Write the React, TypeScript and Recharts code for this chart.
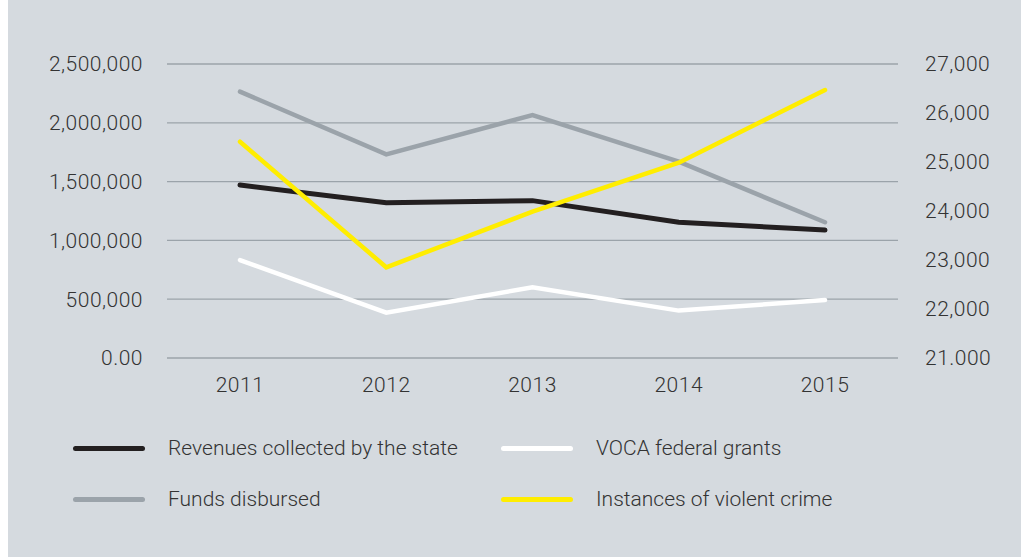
import React from "react";
import { LineChart, Line, XAxis, YAxis, CartesianGrid } from "recharts";

const years = ["2011", "2012", "2013", "2014", "2015"];
const revenues = [1471000, 1321000, 1338000, 1154000, 1088000];
const funds = [2265000, 1732000, 2066000, 1669000, 1154000];
const voca = [833000, 385000, 601000, 403000, 493000];
const crime = [25414, 22851, 23986, 24986, 26469];

const leftTicks = [0, 500000, 1000000, 1500000, 2000000, 2500000];
const leftLabels = ["0.00", "500,000", "1,000,000", "1,500,000", "2,000,000", "2,500,000"];
const rightTicks = [21000, 22000, 23000, 24000, 25000, 26000, 27000];
const rightLabels = ["21.000", "22,000", "23,000", "24,000", "25,000", "26,000", "27,000"];

const seriesNames = [
  "Revenues collected by the state",
  "VOCA federal grants",
  "Funds disbursed",
  "Instances of violent crime",
];

const data = years.map((y, i) => ({
  year: y,
  revenues: revenues[i],
  funds: funds[i],
  voca: voca[i],
  crime: crime[i],
}));

const BG = "#d5dadf";
const TEXT = "#333333";
const GRID = "#9ba3aa";
const FONT = "Roboto, 'Liberation Sans', sans-serif";

const legendItems = [
  { name: seriesNames[0], color: "#231f20", left: 65, top: 448 },
  { name: seriesNames[1], color: "#ffffff", left: 493, top: 448 },
  { name: seriesNames[2], color: "#9ba3aa", left: 65, top: 499 },
  { name: seriesNames[3], color: "#ffed00", left: 493, top: 499 },
];

const tickStyle = { fill: TEXT, fontSize: 21, fontFamily: FONT, fontWeight: 300, letterSpacing: 0.5 };

export default function App() {
  return (
    <div
      style={{
        position: "absolute",
        left: 8,
        top: 0,
        width: 1013,
        height: 557,
        background: BG,
        fontFamily: FONT,
      }}
    >
      <LineChart
        width={1013}
        height={557}
        data={data}
        margin={{ top: 64, right: 0, bottom: 149, left: 0 }}
      >
        <CartesianGrid vertical={false} stroke={GRID} strokeWidth={1.3} yAxisId="left" />
        <XAxis
          dataKey="year"
          axisLine={false}
          tickLine={false}
          tickSize={0}
          tickMargin={19}
          height={50}
          padding={{ left: 73, right: 73 }}
          tick={tickStyle}
        />
        <YAxis
          yAxisId="left"
          domain={[0, 2500000]}
          ticks={leftTicks}
          tickFormatter={(v: number) => leftLabels[leftTicks.indexOf(v)]}
          axisLine={false}
          tickLine={false}
          tickSize={0}
          tickMargin={24}
          width={159}
          tick={tickStyle}
          interval={0}
        />
        <YAxis
          yAxisId="right"
          orientation="right"
          domain={[21000, 27000]}
          ticks={rightTicks}
          tickFormatter={(v: number) => rightLabels[rightTicks.indexOf(v)]}
          axisLine={false}
          tickLine={false}
          tickSize={0}
          tickMargin={27}
          width={123}
          tick={{ ...tickStyle, textAnchor: "start" }}
          interval={0}
        />
        <Line yAxisId="left" dataKey="funds" stroke="#9ba3aa" strokeWidth={4.5} dot={false} isAnimationActive={false} strokeLinecap="round" />
        <Line yAxisId="left" dataKey="revenues" stroke="#231f20" strokeWidth={5} dot={false} isAnimationActive={false} strokeLinecap="round" />
        <Line yAxisId="left" dataKey="voca" stroke="#ffffff" strokeWidth={4.5} dot={false} isAnimationActive={false} strokeLinecap="round" />
        <Line yAxisId="right" dataKey="crime" stroke="#ffed00" strokeWidth={4.5} dot={false} isAnimationActive={false} strokeLinecap="round" />
      </LineChart>
      {legendItems.map((it) => (
        <div
          key={it.name}
          style={{
            position: "absolute",
            left: it.left,
            top: it.top - 15,
            height: 30,
            display: "flex",
            alignItems: "center",
            whiteSpace: "nowrap",
          }}
        >
          <div style={{ width: 72, height: 5, borderRadius: 3, background: it.color }} />
          <span style={{ marginLeft: 23, fontSize: 21, fontWeight: 300, color: TEXT }}>{it.name}</span>
        </div>
      ))}
    </div>
  );
}
